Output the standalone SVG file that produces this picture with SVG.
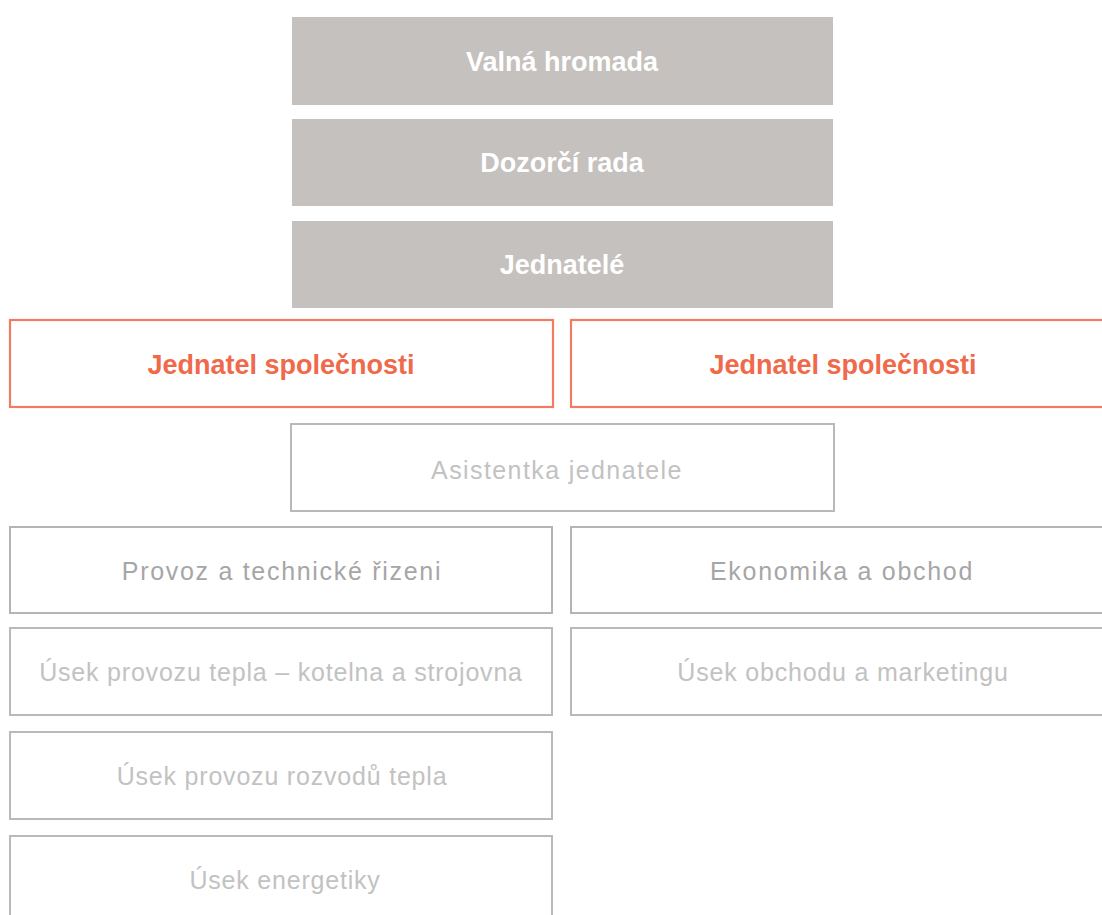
<svg xmlns="http://www.w3.org/2000/svg" width="1102" height="915" viewBox="0 0 1102 915">
<style>
.g rect{fill:#c5c1be;stroke:none}
.g text{fill:#ffffff;font-family:"Liberation Sans",Arial,sans-serif;font-weight:bold;font-size:27px;text-anchor:middle}
.r rect{fill:#ffffff;stroke:#ef7d62;stroke-width:2.2}
.r text{fill:#ef6a4a;font-family:"Liberation Sans",Arial,sans-serif;font-weight:bold;font-size:27px;text-anchor:middle}
.b rect{fill:#ffffff;stroke:#b4b4b4;stroke-width:2}
.b text{fill:#a6a6a6;font-family:"Liberation Sans",Arial,sans-serif;font-size:25px;letter-spacing:1.7px;text-anchor:middle}
.l rect{fill:#ffffff;stroke:#b9b9b9;stroke-width:2}
.l text{fill:#c2c2c2;font-family:"Liberation Sans",Arial,sans-serif;font-size:25px;letter-spacing:0.8px;text-anchor:middle}
</style>
<rect x="0" y="0" width="1102" height="915" fill="#ffffff"/>
<g id="connectors"></g>
<g id="valna-hromada" class="g"><rect x="292" y="17" width="541" height="88"/><text x="562" y="71">Valná hromada</text></g>
<g id="dozorci-rada" class="g"><rect x="292" y="119" width="541" height="87"/><text x="562" y="172">Dozorčí rada</text></g>
<g id="jednatele" class="g"><rect x="292" y="221" width="541" height="87"/><text x="562" y="274">Jednatelé</text></g>
<g id="jednatel1" class="r"><rect x="10" y="320" width="543" height="87"/><text x="281" y="374">Jednatel společnosti</text></g>
<g id="jednatel2" class="r"><rect x="571" y="320" width="545" height="87"/><text x="843" y="374">Jednatel společnosti</text></g>
<g id="asistentka" class="l"><rect x="291" y="424" width="543" height="87"/><text x="557" y="479" style="letter-spacing:1.4px">Asistentka jednatele</text></g>
<g id="provoz" class="b"><rect x="10" y="527" width="542" height="86"/><text x="282" y="580">Provoz a technické řizeni</text></g>
<g id="ekonomika" class="b"><rect x="571" y="527" width="545" height="86"/><text x="842" y="580">Ekonomika a obchod</text></g>
<g id="usek-tepla" class="l"><rect x="10" y="628" width="542" height="87"/><text x="281" y="681">Úsek provozu tepla – kotelna a strojovna</text></g>
<g id="usek-obchodu" class="l"><rect x="571" y="628" width="545" height="87"/><text x="843" y="681">Úsek obchodu a marketingu</text></g>
<g id="usek-rozvodu" class="l"><rect x="10" y="732" width="542" height="87"/><text x="282" y="785">Úsek provozu rozvodů tepla</text></g>
<g id="usek-energetiky" class="l"><rect x="10" y="836" width="542" height="90"/><text x="285" y="889">Úsek energetiky</text></g>
</svg>
